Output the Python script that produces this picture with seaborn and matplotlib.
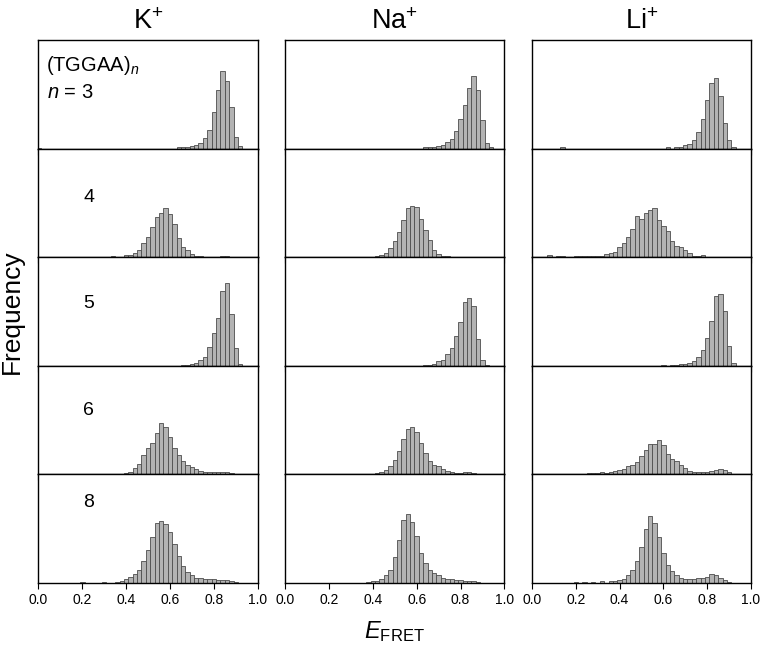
import numpy as np
import pandas as pd
import matplotlib
matplotlib.use("Agg")
import matplotlib.pyplot as plt
import seaborn as sns

# bin centres 0.00, 0.02, ..., 1.00 ; heights as % of panel height
CENTERS = np.round(np.arange(51) * 0.02, 2)
IONS = ["K", "Na", "Li"]
ION_TITLES = ["K$^{+}$", "Na$^{+}$", "Li$^{+}$"]
REPEATS = [3, 4, 5, 6, 8]

K3 = [0.5, 0, 0, 0, 0, 0, 0, 0, 0, 0,
      0, 0, 0, 0, 0, 0, 0, 0, 0, 0,
      0, 0, 0, 0, 0, 0, 0, 0, 0, 0,
      0, 0, 1, 1, 1.5, 2, 3, 5.5, 10, 17,
      34, 54, 71, 62, 38, 11, 2, 0, 0, 0,
      0]
NA3 = [0, 0, 0, 0, 0, 0, 0, 0, 0, 0,
       0, 0, 0, 0, 0, 0, 0, 0, 0, 0,
       0, 0, 0, 0, 0, 0, 0, 0, 0, 0,
       0, 0, 1, 1, 1.5, 2, 3, 6, 9, 16,
       27, 40, 56, 67, 54, 26, 5.5, 1, 0, 0,
       0]
LI3 = [0, 0, 0, 0, 0, 0, 0, 1, 0, 0,
       0, 0, 0, 0, 0, 0, 0, 0, 0, 0,
       0, 0, 0, 0, 0, 0, 0, 0, 0, 0,
       0, 1, 0, 1, 1.5, 3, 4.6, 8, 15, 27,
       45, 60, 65, 48, 24, 8, 1.2, 0, 0, 0,
       0]
K4 = [0, 0, 0, 0, 0, 0, 0, 0, 0, 0,
      0, 0, 0, 0, 0, 0, 0, 1, 0, 0,
      2, 2, 3.4, 7, 13, 18.5, 28, 37, 41, 45,
      40, 31, 17.5, 9, 7, 3, 1.5, 1, 0, 0,
      0, 0, 1.2, 1.2, 0, 0, 0, 0, 0, 0,
      0]
NA4 = [0, 0, 0, 0, 0, 0, 0, 0, 0, 0,
       0, 0, 0, 0, 0, 0, 0, 0, 0, 0,
       0, 1, 2, 4, 8, 15, 23, 34, 45, 47,
       46, 35, 25, 16, 7, 3, 1.5, 1, 0, 0,
       0, 0, 0, 0, 0, 0, 0, 0, 0, 0,
       0]
LI4 = [0, 0, 0, 0, 2, 0, 1, 1, 0, 0,
       0.8, 0.8, 0.8, 0.8, 0.8, 0.8, 0.8, 3, 3.5, 5,
       9, 13, 19, 26, 38, 35, 41, 43, 45, 34,
       29, 24, 15, 10, 9, 7, 4, 1.5, 1, 2,
       0.6, 0.5, 0, 0, 0, 0, 0, 0, 0, 0,
       0]
K5 = [0, 0, 0, 0, 0, 0, 0, 0, 0, 0,
      0, 0, 0, 0, 0, 0, 0, 0, 0, 0,
      0, 0, 0, 0, 0, 0, 0, 0, 0, 0,
      0, 0, 0, 0.5, 0.6, 1.2, 2.5, 5, 8, 17,
      30, 44, 69, 76, 48, 16, 2, 0, 0, 0,
      0]
NA5 = [0, 0, 0, 0, 0, 0, 0, 0, 0, 0,
       0, 0, 0, 0, 0, 0, 0, 0, 0, 0,
       0, 0, 0, 0, 0, 0, 0, 0, 0, 0,
       0, 0, 0.5, 1, 2, 4, 5.5, 10.5, 16, 27,
       40, 59, 62, 55, 25, 5, 0.6, 0, 0, 0,
       0]
LI5 = [0, 0, 0, 0, 0, 0, 0, 0, 0, 0,
       0, 0, 0, 0, 0, 0, 0, 0, 0, 0,
       0, 0, 0, 0, 0, 0, 0, 0, 0, 0,
       0.6, 0, 0.6, 0.6, 1.2, 2, 2.5, 4.3, 8.3, 15,
       26, 41, 64, 66, 50, 18, 2.5, 0, 0, 0,
       0]
K6 = [0, 0, 0, 0, 0, 0, 0, 0, 0, 0,
      0, 0, 0, 0, 0, 0, 0, 0, 0, 0,
      1, 2.5, 5.5, 9.5, 18, 24, 28.5, 38, 47, 43.5,
      34, 24.5, 18, 12, 8.6, 7, 5, 3, 2, 1.8,
      1.8, 1.8, 2.5, 1.8, 1, 0, 0, 0, 0, 0,
      0]
NA6 = [0, 0, 0, 0, 0, 0, 0, 0, 0, 0,
       0, 0, 0, 0, 0, 0, 0, 0, 0, 0,
       0, 1, 2.5, 4.3, 7.7, 13, 22, 33, 42, 44,
       39, 28.5, 20, 12, 9, 7.5, 5, 3, 2.5, 1.2,
       1.2, 1.8, 1.8, 1.2, 0, 0, 0, 0, 0, 0,
       0]
LI6 = [0, 0, 0, 0, 0, 0, 0, 0, 0, 0.3,
       0.6, 0, 0, 1, 1.2, 1.5, 1.8, 1.5, 2.5, 3,
       4.3, 5.2, 7.4, 8.6, 11.3, 17, 22.5, 27.6, 28.2, 31.6,
       26.7, 18.4, 14.4, 12.3, 8.3, 5.5, 3, 2.5, 2.5, 2.5,
       2.5, 2.8, 4.3, 5.2, 3.7, 2, 0, 0, 0, 0,
       0]
K8 = [0, 0, 0, 0, 0, 0, 0, 0, 0, 0,
      1, 0, 0, 0, 0, 1, 0, 0, 1, 2,
      4, 6, 8, 12, 20, 30, 42, 55, 57, 54,
      47, 36, 25, 16, 10, 7, 5, 5, 4, 4,
      4, 3, 3, 2.5, 2, 1, 0, 0, 0, 0,
      0]
NA8 = [0, 0, 0, 0, 0, 0, 0, 0, 0, 0,
       0, 0, 0, 0, 0, 0, 0, 0, 0, 1,
       1.5, 2, 4, 7, 12, 24, 40, 58, 64, 56,
       43, 28, 18, 12, 9, 7, 5, 4, 3.5, 3,
       3, 2, 2, 1.5, 1, 0, 0, 0, 0, 0,
       0]
LI8 = [0, 0, 0, 0, 0, 0, 0, 0, 0, 0,
       1, 0, 1, 0, 1, 0, 1.5, 0, 2, 2,
       3, 4, 7, 12, 20, 33, 50, 62, 55, 42,
       28, 17, 11, 7, 5, 4, 4, 4, 4.5, 5,
       6, 8, 7, 5, 3, 1, 0, 0, 0, 0,
       0]

series = {
    ("K", 3): K3, ("Na", 3): NA3, ("Li", 3): LI3,
    ("K", 4): K4, ("Na", 4): NA4, ("Li", 4): LI4,
    ("K", 5): K5, ("Na", 5): NA5, ("Li", 5): LI5,
    ("K", 6): K6, ("Na", 6): NA6, ("Li", 6): LI6,
    ("K", 8): K8, ("Na", 8): NA8, ("Li", 8): LI8,
}

rows = []
for (ion, n), vals in series.items():
    for c, v in zip(CENTERS, vals):
        rows.append({"ion": ion, "n": n, "efret": c, "freq": v})
df = pd.DataFrame(rows)

sns.set_theme(style="ticks")
plt.rcParams["font.family"] = ["Liberation Sans", "DejaVu Sans"]
plt.rcParams["mathtext.fontset"] = "custom"
plt.rcParams["mathtext.rm"] = "Liberation Sans"
plt.rcParams["mathtext.it"] = "Liberation Sans:italic"
plt.rcParams["axes.edgecolor"] = "black"
plt.rcParams["axes.linewidth"] = 1.0
plt.rcParams["text.color"] = "black"
plt.rcParams["axes.labelcolor"] = "black"
plt.rcParams["xtick.color"] = "black"

fig, axes = plt.subplots(5, 3, figsize=(7.62, 6.52), dpi=100, sharex=True)
fig.subplots_adjust(left=0.0505, right=0.9856, top=0.9387, bottom=0.1058,
                    wspace=0.1256, hspace=0)

for r, n in enumerate(REPEATS):
    for c, ion in enumerate(IONS):
        ax = axes[r, c]
        sub = df[(df["ion"] == ion) & (df["n"] == n)]
        sns.histplot(data=sub, x="efret", weights="freq", binwidth=0.02,
                     binrange=(-0.01, 1.01), ax=ax,
                     color="#b3b3b3", edgecolor="#4d4d4d", linewidth=0.6, alpha=1)
        ax.set_xlim(0, 1)
        ax.set_ylim(0, 100)
        ax.set_yticks([])
        ax.set_ylabel("")
        ax.set_xlabel("")
        ax.set_xticks(np.arange(0, 1.01, 0.2))
        ax.tick_params(axis="x", direction="out", length=4, width=0.8,
                       labelsize=10, colors="black", pad=3)
        if r == 0:
            ax.set_title(ION_TITLES[c], fontsize=19.5, pad=8, color="black")

axes[-1, 0].set_xticklabels([f"{t:.1f}" for t in np.arange(0, 1.01, 0.2)])

axes[0, 0].text(0.035, 0.765, "(TGGAA)$_{n}$", transform=axes[0, 0].transAxes,
                fontsize=14.5, va="center", ha="left")
axes[0, 0].text(0.04, 0.52, "$n$ = 3", transform=axes[0, 0].transAxes,
                fontsize=14.5, va="center", ha="left")
label_y = [0.55, 0.57, 0.59, 0.74]
for r, n in enumerate(REPEATS[1:], start=1):
    axes[r, 0].text(0.205, label_y[r - 1], str(n), transform=axes[r, 0].transAxes,
                    fontsize=14, va="center", ha="left")

fig.text(0.016, 0.522, "Frequency", rotation=90, fontsize=19,
         va="center", ha="center")
fig.text(0.518, 0.031, "$E$$_{\\mathrm{FRET}}$", fontsize=17,
         va="center", ha="center")

fig.savefig("out.png", dpi=100)
